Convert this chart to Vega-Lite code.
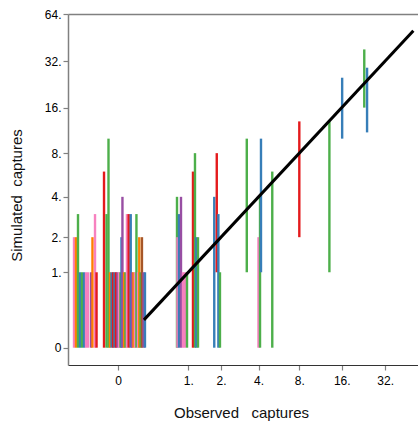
{
  "$schema": "https://vega.github.io/schema/vega-lite/v6.json",
  "width": 350,
  "height": 351,
  "autosize": {"type": "none"},
  "padding": {"left": 68, "top": 14, "right": 0, "bottom": 57},
  "background": "white",
  "config": {"view": {"stroke": null}, "font": "Liberation Sans"},
  "datasets": {
    "segs": [
      {"x": -0.494, "lo": 0, "hi": 2, "c": "pink"},
      {"x": -0.464, "lo": 0, "hi": 2, "c": "orange"},
      {"x": -0.434, "lo": 0, "hi": 3, "c": "green"},
      {"x": -0.405, "lo": 0, "hi": 1, "c": "blue"},
      {"x": -0.378, "lo": 0, "hi": 1, "c": "green"},
      {"x": -0.35, "lo": 0, "hi": 1, "c": "blue"},
      {"x": -0.324, "lo": 0, "hi": 1, "c": "pink"},
      {"x": -0.299, "lo": 0, "hi": 1, "c": "pink"},
      {"x": -0.262, "lo": 0, "hi": 1, "c": "purple"},
      {"x": -0.245, "lo": 0, "hi": 2, "c": "orange"},
      {"x": -0.216, "lo": 0, "hi": 3, "c": "pink"},
      {"x": -0.199, "lo": 0, "hi": 1, "c": "red"},
      {"x": -0.122, "lo": 0, "hi": 6, "c": "red"},
      {"x": -0.098, "lo": 0, "hi": 3, "c": "green"},
      {"x": -0.08, "lo": 0, "hi": 10, "c": "green"},
      {"x": -0.067, "lo": 0, "hi": 1, "c": "orange"},
      {"x": -0.053, "lo": 0, "hi": 1, "c": "blue"},
      {"x": -0.04, "lo": 0, "hi": 1, "c": "red"},
      {"x": -0.028, "lo": 0, "hi": 1, "c": "blue"},
      {"x": -0.016, "lo": 0, "hi": 1, "c": "red"},
      {"x": -0.004, "lo": 0, "hi": 1, "c": "purple"},
      {"x": 0.008, "lo": 0, "hi": 1, "c": "pink"},
      {"x": 0.02, "lo": 0, "hi": 1, "c": "green"},
      {"x": 0.028, "lo": 0, "hi": 2, "c": "blue"},
      {"x": 0.036, "lo": 0, "hi": 4, "c": "purple"},
      {"x": 0.05, "lo": 0, "hi": 1, "c": "orange"},
      {"x": 0.062, "lo": 0, "hi": 1, "c": "green"},
      {"x": 0.075, "lo": 0, "hi": 3, "c": "pink"},
      {"x": 0.091, "lo": 0, "hi": 3, "c": "red"},
      {"x": 0.11, "lo": 0, "hi": 3, "c": "blue"},
      {"x": 0.122, "lo": 0, "hi": 1, "c": "purple"},
      {"x": 0.137, "lo": 0, "hi": 1, "c": "orange"},
      {"x": 0.152, "lo": 0, "hi": 1, "c": "pink"},
      {"x": 0.167, "lo": 0, "hi": 3, "c": "green"},
      {"x": 0.184, "lo": 0, "hi": 1, "c": "pink"},
      {"x": 0.197, "lo": 0, "hi": 2, "c": "orange"},
      {"x": 0.211, "lo": 0, "hi": 1, "c": "green"},
      {"x": 0.227, "lo": 0, "hi": 2, "c": "brown"},
      {"x": 0.245, "lo": 0, "hi": 1, "c": "purple"},
      {"x": 0.262, "lo": 0, "hi": 1, "c": "blue"},
      {"x": 0.757, "lo": 0, "hi": 4, "c": "green"},
      {"x": 0.766, "lo": 0, "hi": 2, "c": "pink"},
      {"x": 0.797, "lo": 0, "hi": 3, "c": "blue"},
      {"x": 0.838, "lo": 0, "hi": 4, "c": "purple"},
      {"x": 0.88, "lo": 0, "hi": 1, "c": "pink"},
      {"x": 0.92, "lo": 0, "hi": 1, "c": "pink"},
      {"x": 0.97, "lo": 0, "hi": 1, "c": "green"},
      {"x": 1.114, "lo": 0, "hi": 6, "c": "red"},
      {"x": 1.165, "lo": 0, "hi": 8, "c": "green"},
      {"x": 1.2, "lo": 0, "hi": 2, "c": "blue"},
      {"x": 1.245, "lo": 0, "hi": 2, "c": "green"},
      {"x": 1.75, "lo": 0, "hi": 4, "c": "blue"},
      {"x": 1.84, "lo": 1, "hi": 8, "c": "red"},
      {"x": 1.9, "lo": 0, "hi": 3, "c": "blue"},
      {"x": 1.96, "lo": 0, "hi": 1, "c": "green"},
      {"x": 3.24, "lo": 1, "hi": 10, "c": "green"},
      {"x": 3.99, "lo": 0, "hi": 2, "c": "pink"},
      {"x": 4.1, "lo": 0, "hi": 4, "c": "green"},
      {"x": 4.17, "lo": 1, "hi": 10, "c": "blue"},
      {"x": 5.07, "lo": 0, "hi": 6, "c": "green"},
      {"x": 8.0, "lo": 2, "hi": 13, "c": "red"},
      {"x": 13.1, "lo": 1, "hi": 13, "c": "green"},
      {"x": 16.1, "lo": 10, "hi": 25, "c": "blue"},
      {"x": 22.95, "lo": 16, "hi": 38, "c": "green"},
      {"x": 24.0, "lo": 11, "hi": 29, "c": "blue"}
    ],
    "diag": [
      {"x": 0.25, "y": 0.25},
      {"x": 50, "y": 50}
    ]
  },
  "layer": [
    {
      "data": {"name": "segs"},
      "mark": {"type": "rule", "strokeWidth": 2.4},
      "encoding": {
        "x": {
          "field": "x", "type": "quantitative",
          "scale": {"type": "symlog", "constant": 0.5, "domain": [-0.592, 53.8], "nice": false, "zero": false},
          "axis": {
            "values": [0, 1, 2, 4, 8, 16, 32],
            "labelExpr": "datum.value == 0 ? '0' : datum.value + '.'",
            "title": "Observed\u00a0\u00a0\u00a0captures",
            "titleFontSize": 15, "titleFontWeight": "normal", "titleColor": "#111",
            "titleX": 173, "titleY": 47.7, "titleBaseline": "middle", "titleAlign": "center",
            "labelFontSize": 12, "labelColor": "#000", "labelFlush": false, "labelOverlap": false, "labelBound": false,
            "domain": true, "domainWidth": 1.2, "domainColor": "#333", "domainOpacity": 1,
            "ticks": true, "tickSize": 5, "tickWidth": 1.2, "tickColor": "#808080", "tickOpacity": 1,
            "labelPadding": 5, "grid": false
          }
        },
        "y": {
          "field": "lo", "type": "quantitative",
          "scale": {"type": "symlog", "constant": 0.5, "domain": [-0.1433, 64], "nice": false, "zero": false},
          "axis": {
            "values": [0, 1, 2, 4, 8, 16, 32, 64],
            "labelExpr": "datum.value == 0 ? '0' : datum.value + '.'",
            "title": "Simulated\u00a0\u00a0captures",
            "titleFontSize": 15, "titleFontWeight": "normal", "titleColor": "#111",
            "titleX": -52, "titleY": 181, "titleBaseline": "middle", "titleAlign": "center", "titleAngle": -90,
            "labelFontSize": 12, "labelColor": "#000", "labelFlush": false, "labelOverlap": false, "labelBound": false,
            "domain": true, "domainWidth": 1.5, "domainColor": "#808080", "domainOpacity": 1,
            "ticks": true, "tickSize": 5, "tickWidth": 1.2, "tickColor": "#808080", "tickOpacity": 1,
            "labelPadding": 2, "grid": false
          }
        },
        "y2": {"field": "hi"},
        "color": {
          "field": "c", "type": "nominal",
          "scale": {
            "domain": ["red", "blue", "green", "purple", "orange", "brown", "pink"],
            "range": ["#e41a1c", "#377eb8", "#4daf4a", "#984ea3", "#ff7f00", "#a65628", "#f781bf"]
          },
          "legend": null
        }
      }
    },
    {
      "data": {"name": "diag"},
      "mark": {"type": "line", "color": "black", "strokeWidth": 3},
      "encoding": {
        "x": {
          "field": "x", "type": "quantitative",
          "axis": {"orient": "top", "domain": true, "domainWidth": 1.5, "domainColor": "#808080", "domainOpacity": 1, "ticks": false, "labels": false, "title": null, "grid": false}
        },
        "y": {"field": "y", "type": "quantitative"}
      }
    }
  ],
  "resolve": {"axis": {"x": "independent"}}
}
